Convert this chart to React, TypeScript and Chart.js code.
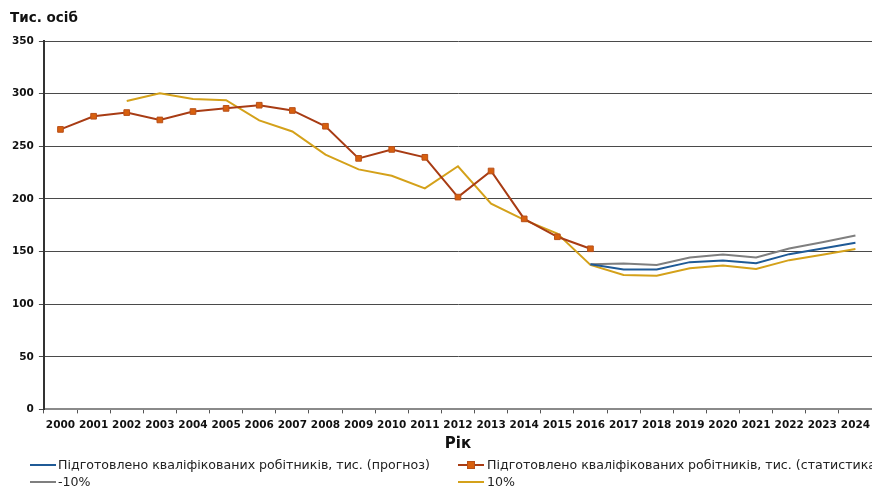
import React, { useEffect, useRef } from "react";
import { Chart, registerables } from "chart.js";

Chart.register(...registerables);

const years = [
  "2000", "2001", "2002", "2003", "2004", "2005", "2006", "2007", "2008",
  "2009", "2010", "2011", "2012", "2013", "2014", "2015", "2016", "2017",
  "2018", "2019", "2020", "2021", "2022", "2023", "2024",
];

const forecast = [
  null, null, null, null, null, null, null, null, null, null, null, null,
  null, null, null, null, 138, 132.9, 132.9, 139.9, 141.4, 138.9, 147.5, 152.9, 158.3,
];

const statistics = [
  266, 278.5, 282, 275, 283, 286, 289, 284, 269, 238.5, 247, 239.5, 201.7,
  226.5, 181, 164, 152.6, null, null, null, null, null, null, null, null,
];

const minus10 = [
  null, null, null, null, null, null, null, null, null, null, null, null,
  null, null, null, null, 138, 138.6, 137.3, 144.3, 147.2, 144.3, 152.9, 158.9, 165.3,
];

const plus10 = [
  null, null, 293, 300.4, 295, 293.7, 274.6, 264, 242, 228, 222, 210, 231,
  195.5, 180, 167, 137.3, 127.8, 127, 134, 136.7, 133.5, 141.8, 146.9, 152.3,
];

const yTicks = [0, 50, 100, 150, 200, 250, 300, 350];

const seriesNames = [
  "Підготовлено кваліфікованих робітників, тис. (прогноз)",
  "Підготовлено кваліфікованих робітників, тис. (статистика)",
  "-10%",
  "10%",
];

const yUnitTitle = "Тис. осіб";
const xTitle = "Рік";

const FONT = "'DejaVu Sans', Verdana, sans-serif";

export default function App() {
  const ref = useRef<HTMLCanvasElement | null>(null);

  useEffect(() => {
    if (!ref.current) return;
    const chart = new Chart(ref.current, {
      type: "line",
      data: {
        labels: years,
        datasets: [
          {
            label: seriesNames[0],
            data: forecast,
            borderColor: "#1F5A96",
            borderWidth: 2,
            pointRadius: 0,
            tension: 0,
          },
          {
            label: seriesNames[1],
            data: statistics,
            borderColor: "#A83C14",
            borderWidth: 2,
            pointRadius: 4,
            pointStyle: "rect",
            pointBackgroundColor: "#D8600E",
            pointBorderColor: "#B8501A",
            pointBorderWidth: 1,
            tension: 0,
          },
          {
            label: seriesNames[2],
            data: minus10,
            borderColor: "#7F7F7F",
            borderWidth: 2,
            pointRadius: 0,
            tension: 0,
          },
          {
            label: seriesNames[3],
            data: plus10,
            borderColor: "#D4A11A",
            borderWidth: 2,
            pointRadius: 0,
            tension: 0,
          },
        ],
      },
      options: {
        animation: false,
        responsive: false,
        maintainAspectRatio: false,
        layout: { autoPadding: false, padding: { left: 7, right: 0, top: 41, bottom: 34 } },
        plugins: {
          legend: { display: false },
          tooltip: { enabled: false },
          title: { display: false },
        },
        scales: {
          x: {
            type: "category",
            offset: true,
            afterFit: (axis: any) => {
              axis.paddingRight = 0;
              axis.paddingLeft = 0;
            },
            grid: {
              display: true,
              drawOnChartArea: false,
              drawTicks: true,
              tickLength: 4,
              offset: true,
              color: "#555",
            },
            border: { display: true, color: "#8a8a8a", width: 2 },
            ticks: {
              color: "#111",
              font: { family: FONT, size: 10.5, weight: "bold" },
              maxRotation: 0,
              autoSkip: false,
              padding: 6,
            },
            title: {
              display: true,
              text: xTitle,
              color: "#111",
              font: { family: FONT, size: 15, weight: "bold" },
              padding: { top: -3, bottom: 0 },
            },
          },
          y: {
            min: 0,
            max: 350,
            afterBuildTicks: (axis: any) => {
              axis.ticks = yTicks.map((v) => ({ value: v }));
            },
            grid: {
              color: "#4a4a4a",
              lineWidth: 1,
              drawTicks: true,
              tickLength: 5,
            },
            border: { display: true, color: "#333", width: 2 },
            ticks: {
              color: "#111",
              font: { family: FONT, size: 10.5, weight: "bold" },
              padding: 5,
            },
          },
        },
      },
    });
    return () => chart.destroy();
  }, []);

  const legendText: React.CSSProperties = {
    position: "absolute",
    fontFamily: FONT,
    fontSize: 12.6,
    color: "#222",
    whiteSpace: "nowrap",
    lineHeight: "14px",
  };

  const lineSwatch = (left: number, top: number, color: string, marker?: boolean) => (
    <div style={{ position: "absolute", left, top, width: 26, height: 2, background: color }}>
      {marker ? (
        <div
          style={{
            position: "absolute",
            left: 9,
            top: -3,
            width: 6,
            height: 6,
            background: "#D8600E",
            border: "1px solid #B8501A",
          }}
        />
      ) : null}
    </div>
  );

  return (
    <div
      style={{
        position: "absolute",
        left: 0,
        top: 0,
        width: 872,
        height: 487,
        overflow: "hidden",
        background: "#fff",
      }}
    >
      <canvas ref={ref} width={872} height={487} style={{ display: "block" }} />
      <div
        style={{
          position: "absolute",
          left: 10,
          top: 9,
          fontFamily: FONT,
          fontSize: 13.5,
          fontWeight: "bold",
          color: "#111",
          lineHeight: "16px",
          whiteSpace: "nowrap",
        }}
      >
        {yUnitTitle}
      </div>
      {lineSwatch(30, 464, "#1F5A96")}
      <div style={{ ...legendText, left: 58, top: 458 }}>{seriesNames[0]}</div>
      {lineSwatch(458, 464, "#A83C14", true)}
      <div style={{ ...legendText, left: 487, top: 458 }}>{seriesNames[1]}</div>
      {lineSwatch(30, 481, "#7F7F7F")}
      <div style={{ ...legendText, left: 58, top: 475 }}>{seriesNames[2]}</div>
      {lineSwatch(458, 481, "#D4A11A")}
      <div style={{ ...legendText, left: 487, top: 475 }}>{seriesNames[3]}</div>
    </div>
  );
}
